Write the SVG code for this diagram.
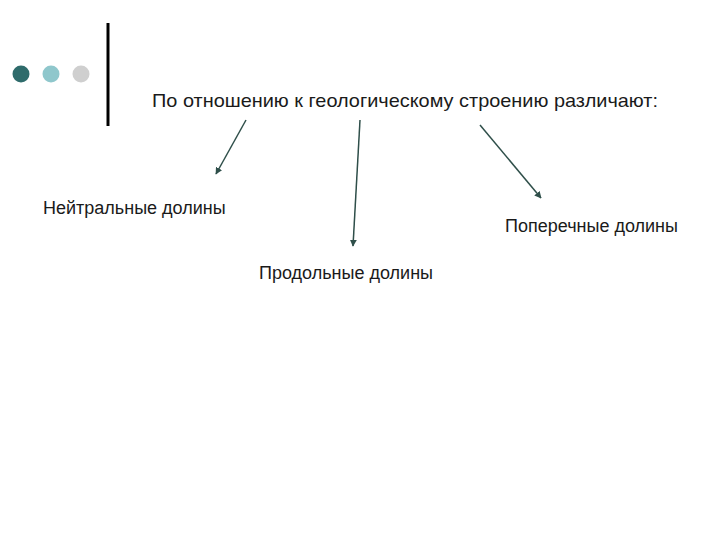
<svg xmlns="http://www.w3.org/2000/svg" width="720" height="540" viewBox="0 0 720 540">
<defs>
<style>
text{font-family:"Liberation Sans",Arial,sans-serif;font-size:18px;fill:#1a1a1a}
.t{font-size:19px}
.c{stroke:#2f4f4a;stroke-width:1.5;fill:none;marker-end:url(#ah)}
</style>
<marker id="ah" viewBox="0 0 10 10" refX="9" refY="5" markerWidth="7" markerHeight="7" orient="auto" markerUnits="userSpaceOnUse">
<path d="M0,0 L10,5 L0,10 z" fill="#2f4f4a"/>
</marker>
</defs>
<rect width="720" height="540" fill="#fff"/>
<g id="deco">
<circle cx="21" cy="74" r="8.5" fill="#2e6b6b"/>
<circle cx="51" cy="74" r="8.5" fill="#8fc7cc"/>
<circle cx="81" cy="74" r="8.5" fill="#cfcfcf"/>
<line x1="108" y1="23" x2="108" y2="126" stroke="#000" stroke-width="3"/>
</g>
<g id="title"><text class="t" x="152" y="107" textLength="506" lengthAdjust="spacingAndGlyphs">По отношению к геологическому строению различают:</text></g>
<g id="n1"><text x="43" y="214">Нейтральные долины</text></g>
<g id="n2"><text x="259" y="279">Продольные долины</text></g>
<g id="n3"><text x="505" y="232">Поперечные долины</text></g>
<g id="connectors">
<line class="c" x1="246" y1="120" x2="216" y2="174"/>
<line class="c" x1="360" y1="120" x2="353" y2="246"/>
<line class="c" x1="480" y1="125" x2="541" y2="198"/>
</g>
</svg>
